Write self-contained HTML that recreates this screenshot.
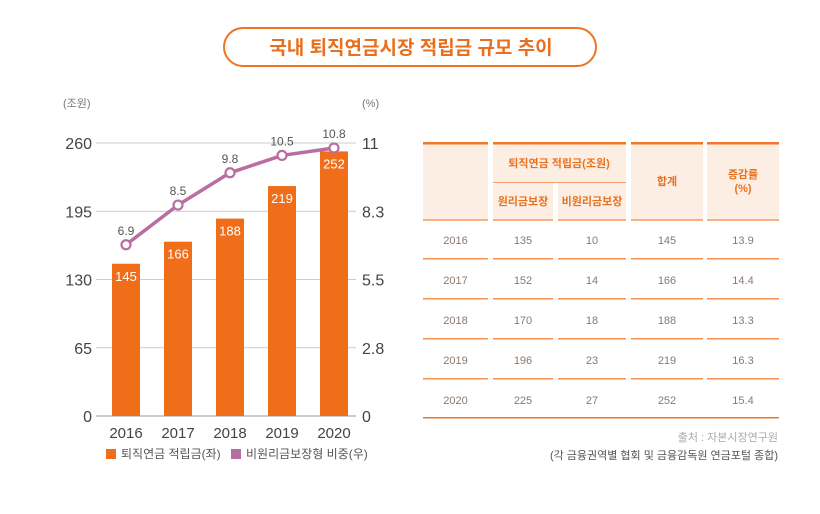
<!DOCTYPE html>
<html><head><meta charset="utf-8"><style>
body{margin:0;background:#fff;}
svg text{font-family:"Liberation Sans","Noto Sans CJK KR",sans-serif;}
</style></head><body>
<svg width="820" height="509" viewBox="0 0 820 509" xmlns="http://www.w3.org/2000/svg">
<rect x="224" y="28" width="372" height="38" rx="19" fill="#fff" stroke="#ef7324" stroke-width="2"/>
<text x="411" y="54" text-anchor="middle" font-size="19" font-weight="bold" fill="#e96f20">국내 퇴직연금시장 적립금 규모 추이</text>
<g id="chart"></g>
<g id="table"></g>
<text x="778" y="441" text-anchor="end" font-size="11" fill="#aaa">출처 : 자본시장연구원</text>
<text x="778" y="459" text-anchor="end" font-size="11" fill="#555">(각 금융권역별 협회 및 금융감독원 연금포털 종합)</text>
</svg>
<script>
const years = ['2016','2017','2018','2019','2020'];
const totals = [145,166,188,219,252];
const ratios = [6.9,8.5,9.8,10.5,10.8];
const ratioLabels = ['6.9','8.5','9.8','10.5','10.8'];
const leftTicks = [0,65,130,195,260];
const rightTickLabels = ['0','2.8','5.5','8.3','11'];
const principal = [135,152,170,196,225];
const nonPrincipal = [10,14,18,23,27];
const growth = ['13.9','14.4','13.3','16.3','15.4'];

const NS='http://www.w3.org/2000/svg';
function mk(tag, attrs, parent, txt){const e=document.createElementNS(NS,tag);for(const k in attrs)e.setAttribute(k,attrs[k]);if(txt!==undefined)e.textContent=txt;parent.appendChild(e);return e;}
const g=document.getElementById('chart');
const y0=416, yTop=143, xL=96, xR=356;
const yL=v=>y0-(v/260)*(y0-yTop);
const yR=v=>y0-(v/11)*(y0-yTop);
const xC=i=>126+i*52;

mk('text',{x:63,y:107,'font-size':11,fill:'#777'},g,'(조원)');
mk('text',{x:362,y:107,'font-size':11,fill:'#777'},g,'(%)');
leftTicks.forEach((t,i)=>{
  const y=yL(t);
  const l=mk('line',{x1:xL,x2:xR,y1:y,y2:y,stroke:i===0?'#999':'#ccc','stroke-width':1},g);
  
  
  const a=mk('text',{x:92,y:y+6,'text-anchor':'end','font-size':16,fill:'#444'},g,String(t));
  
  
  const b=mk('text',{x:362,y:y+6,'font-size':16,fill:'#444'},g,rightTickLabels[i]);
  
  
});
totals.forEach((v,i)=>{
  const r=mk('rect',{x:xC(i)-14,y:yL(v),width:28,height:y0-yL(v),fill:'#f06e19'},g);
  
  
  const t=mk('text',{x:xC(i),y:yL(v)+17,'text-anchor':'middle','font-size':13,fill:'#fff'},g,String(v));
  
  
  const x=mk('text',{x:xC(i),y:438,'text-anchor':'middle','font-size':15,fill:'#444'},g,years[i]);
  
  
});
const pts=ratios.map((v,i)=>xC(i)+','+yR(v)).join(' ');
const pl=mk('polyline',{points:pts,fill:'none',stroke:'#b86ea0','stroke-width':3.5},g);


ratios.forEach((v,i)=>{
  const c=mk('circle',{cx:xC(i),cy:yR(v),r:4.5,fill:'#fff',stroke:'#b86ea0','stroke-width':2.2},g);
  
  
  const t=mk('text',{x:xC(i),y:yR(v)-10,'text-anchor':'middle','font-size':12,fill:'#555'},g,ratioLabels[i]);
  
  
});
const lg1=mk('rect',{x:106,y:449,width:10,height:10,fill:'#f06e19'},g);


const lt1=mk('text',{x:121,y:458,'font-size':12,fill:'#555'},g,'퇴직연금 적립금(좌)');


const lg2=mk('rect',{x:231,y:449,width:10,height:10,fill:'#b86ea0'},g);


const lt2=mk('text',{x:246,y:458,'font-size':12,fill:'#555'},g,'비원리금보장형 비중(우)');



// table
const tb=document.getElementById('table');
const cols=[[423,488],[493,553],[558,626],[631,703],[707,779]];
const cx=c=>(c[0]+c[1])/2;
mk('rect',{x:423,y:143,width:356,height:77,fill:'#fdeee4'},tb);
[[423,488],[493,626],[631,703],[707,779]].forEach(c=>mk('rect',{x:c[0],y:142,width:c[1]-c[0],height:2.5,fill:'#f07828'},tb));
mk('rect',{x:488,y:143,width:5,height:77,fill:'#fff'},tb);
mk('rect',{x:626,y:143,width:5,height:77,fill:'#fff'},tb);
mk('rect',{x:703,y:143,width:4,height:77,fill:'#fff'},tb);
mk('rect',{x:553,y:183,width:5,height:37,fill:'#fff'},tb);
mk('line',{x1:493,x2:626,y1:182.5,y2:182.5,stroke:'#f5a070','stroke-width':1},tb);
const hs={'font-size':11,fill:'#e8711f','text-anchor':'middle','font-weight':'bold'};
mk('text',Object.assign({x:559,y:167},hs),tb,'퇴직연금 적립금(조원)');
mk('text',Object.assign({x:cx(cols[1]),y:205},hs),tb,'원리금보장');
mk('text',Object.assign({x:cx(cols[2]),y:205},hs),tb,'비원리금보장');
mk('text',Object.assign({x:cx(cols[3]),y:185},hs),tb,'합계');
mk('text',Object.assign({x:cx(cols[4]),y:178},hs),tb,'증감률');
mk('text',Object.assign({x:cx(cols[4]),y:192},hs),tb,'(%)');
cols.forEach(c=>mk('rect',{x:c[0],y:219,width:c[1]-c[0],height:2,fill:'#f8b080'},tb));
years.forEach((y,i)=>{
  const ty=244+i*40;
  const vals=[y,String(principal[i]),String(nonPrincipal[i]),String(totals[i]),growth[i]];
  vals.forEach((v,j)=>{
    const t=mk('text',{x:cx(cols[j]),y:ty,'text-anchor':'middle','font-size':11,fill:'#8a7a70'},tb,v);
    
    
  });
  if(i<4) cols.forEach(c=>mk('rect',{x:c[0],y:ty+14,width:c[1]-c[0],height:1.5,fill:'#f59050'},tb));
});
mk('rect',{x:423,y:417,width:356,height:1.5,fill:'#f07828'},tb);
</script>
</body></html>
